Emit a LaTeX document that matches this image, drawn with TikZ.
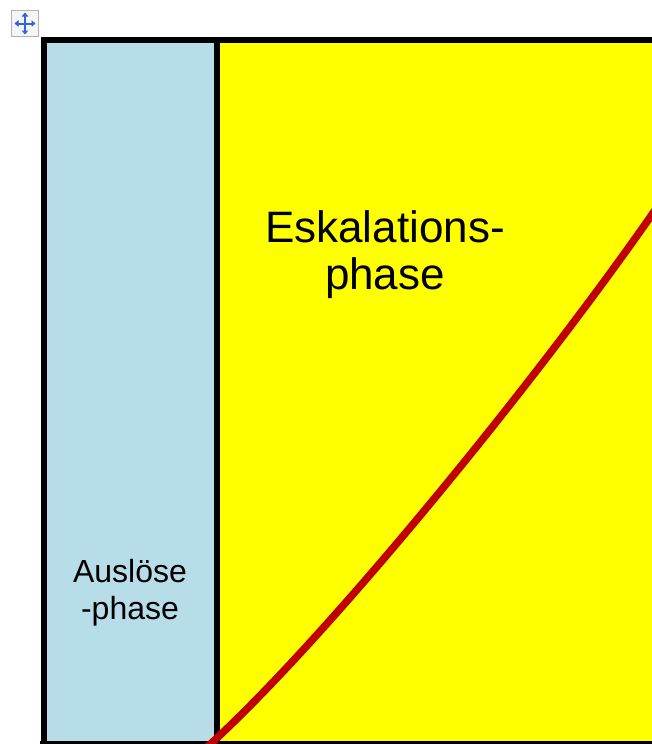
\documentclass[tikz,border=0pt]{standalone}
\usepackage{fontspec}
\setmainfont{Liberation Sans}
\usetikzlibrary{arrows.meta}
\definecolor{paneblue}{RGB}{183,221,232}
\definecolor{paneyellow}{RGB}{255,255,0}
\definecolor{curvered}{RGB}{192,0,0}
\definecolor{iconblue}{RGB}{50,100,210}
\tikzset{
  frameline/.style={line width=6pt, draw=black},
  bigtext/.style={font=\fontsize{44}{47}\selectfont, align=center, inner sep=0pt},
  smalltext/.style={font=\fontsize{32}{37}\selectfont, align=center, inner sep=0pt},
  curveline/.style={line width=7.5pt, draw=curvered},
  iconarrow/.style={line width=2pt, draw=iconblue, {Triangle[length=4pt,width=6.5pt]}-{Triangle[length=4pt,width=6.5pt]}}
}
\begin{document}
\begin{tikzpicture}[x=1pt,y=-1pt]
\useasboundingbox (0,0) rectangle (652,744);
\begin{scope}
\clip (0,0) rectangle (652,744);
% panels
\fill[paneblue] (44,40) rectangle (217,744);
\fill[paneyellow] (217,40) rectangle (700,744);
\draw[frameline] (44,750) -- (44,40) -- (700,40);
\draw[frameline] (217,40) -- (217,750);
\draw[frameline] (40,744) -- (700,744);
% icon
\draw[gray!60, fill=gray!8, line width=0.8pt] (11.5,10.5) rectangle (38.5,36.5);
\draw[iconarrow] (14.5,23.5) -- (35.5,23.5);
\draw[iconarrow] (25,12.5) -- (25,34.5);
% texts
\node[bigtext] (esk) at (385,255) {Eskalations-\\phase};
\node[smalltext] (aus) at (130,593) {Auslöse\\-phase};
% curve
\coordinate (cstart) at (205,749);
\coordinate (cend) at (660,203);
\draw[curveline] (cstart) .. controls (325,641) and (540,377) .. (cend);
\end{scope}
\end{tikzpicture}
\end{document}
